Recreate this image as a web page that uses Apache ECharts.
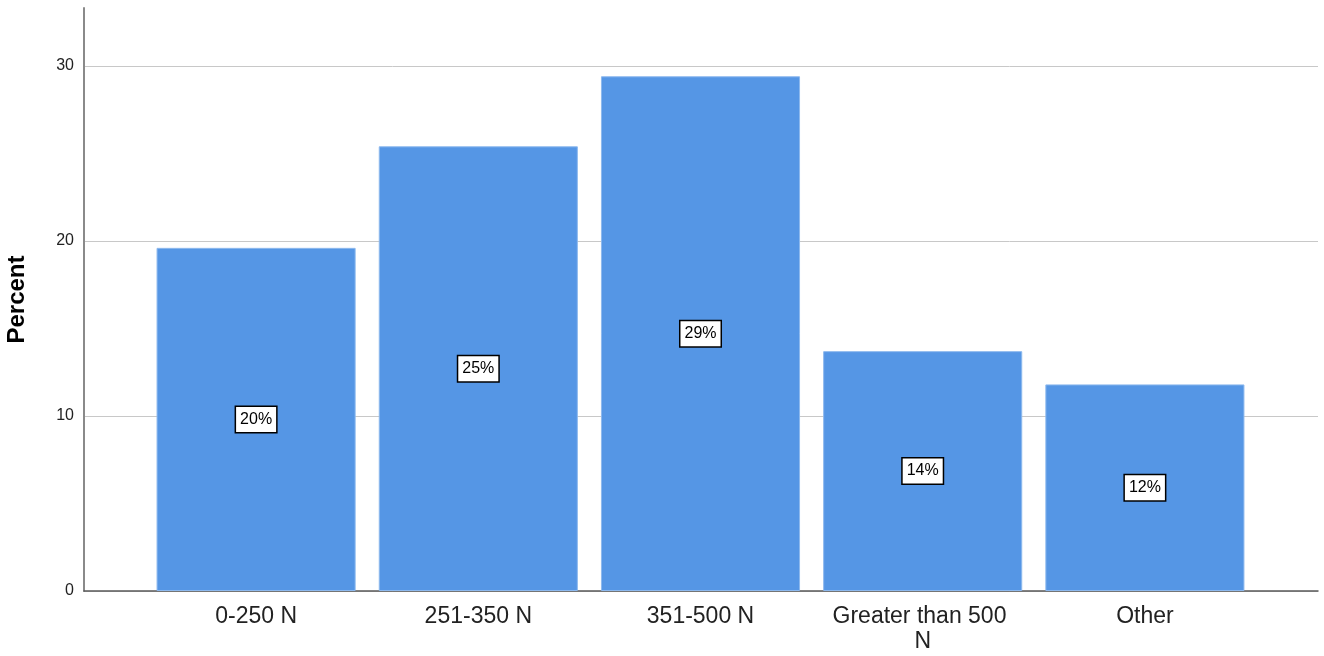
<!DOCTYPE html>
<html>
<head>
<meta charset="utf-8">
<script src="https://cdn.jsdelivr.net/npm/echarts@6/dist/echarts.min.js"></script>
<style>
  html, body { margin: 0; padding: 0; background: #fff; }
  #chart { width: 1324px; height: 656px; }
</style>
</head>
<body>
<div id="chart"></div>
<script>
// Load class categories and the share of responses in each
const categories = ['0-250 N', '251-350 N', '351-500 N', 'Greater than 500 N', 'Other'];
const percentValues = [19.6, 25.4, 29.4, 13.7, 11.8];
const yTicks = [0, 10, 20, 30];

const Y_MAX = 33.3;
const FONT = '"Liberation Sans", Arial, sans-serif';

const chart = echarts.init(document.getElementById('chart'), null, { renderer: 'canvas' });

chart.setOption({
  animation: false,
  backgroundColor: '#ffffff',
  grid: [
    // frame: y axis, gridlines and baseline across the full width
    { left: 84, right: 6, top: 8, bottom: 65, outerBoundsMode: 'none', containLabel: false },
    // inner band holding the bars and category labels
    { left: 145, right: 68, top: 8, bottom: 65, outerBoundsMode: 'none', containLabel: false }
  ],
  xAxis: [
    {
      gridIndex: 0, type: 'value', min: 0, max: 1,
      axisLine: { show: true, lineStyle: { color: '#5a5a5a', width: 1.5 } },
      axisTick: { show: false }, axisLabel: { show: false }, splitLine: { show: false }
    },
    {
      gridIndex: 1, type: 'category', data: categories,
      axisLine: { show: false }, axisTick: { show: false },
      axisLabel: {
        fontFamily: FONT, fontSize: 23, color: '#222', margin: 13,
        lineHeight: 25, width: 185, overflow: 'break', interval: 0
      }
    }
  ],
  yAxis: [
    {
      gridIndex: 0, type: 'value', min: 0, max: Y_MAX, interval: 10,
      name: 'Percent', nameLocation: 'middle', nameRotate: 90, nameGap: 55,
      nameTextStyle: { fontFamily: FONT, fontSize: 24, fontWeight: 'bold', color: '#000' },
      axisLine: { show: true, lineStyle: { color: '#8a8a8a', width: 2 } },
      axisTick: { show: false },
      axisLabel: {
        fontFamily: FONT, fontSize: 16, color: '#222', margin: 10,
        showMaxLabel: false,
        formatter: v => (yTicks.includes(v) ? String(v) : '')
      },
      splitLine: { show: true, showMaxLine: false, lineStyle: { color: '#c8c8c8', width: 1 } }
    },
    {
      gridIndex: 1, type: 'value', min: 0, max: Y_MAX,
      axisLine: { show: false }, axisTick: { show: false },
      axisLabel: { show: false }, splitLine: { show: false }
    }
  ],
  series: [
    {
      type: 'bar',
      xAxisIndex: 1, yAxisIndex: 1,
      data: percentValues,
      barCategoryGap: '10.4%',
      itemStyle: { color: '#5596e5', borderColor: '#8db9ee', borderWidth: 1 },
      label: {
        show: true, position: 'inside',
        formatter: p => Math.round(p.value) + '%',
        fontFamily: FONT, fontSize: 16, color: '#000',
        backgroundColor: '#fff', borderColor: '#000', borderWidth: 1.5,
        padding: [5, 4, 4, 4]
      }
    }
  ]
});
</script>
</body>
</html>
